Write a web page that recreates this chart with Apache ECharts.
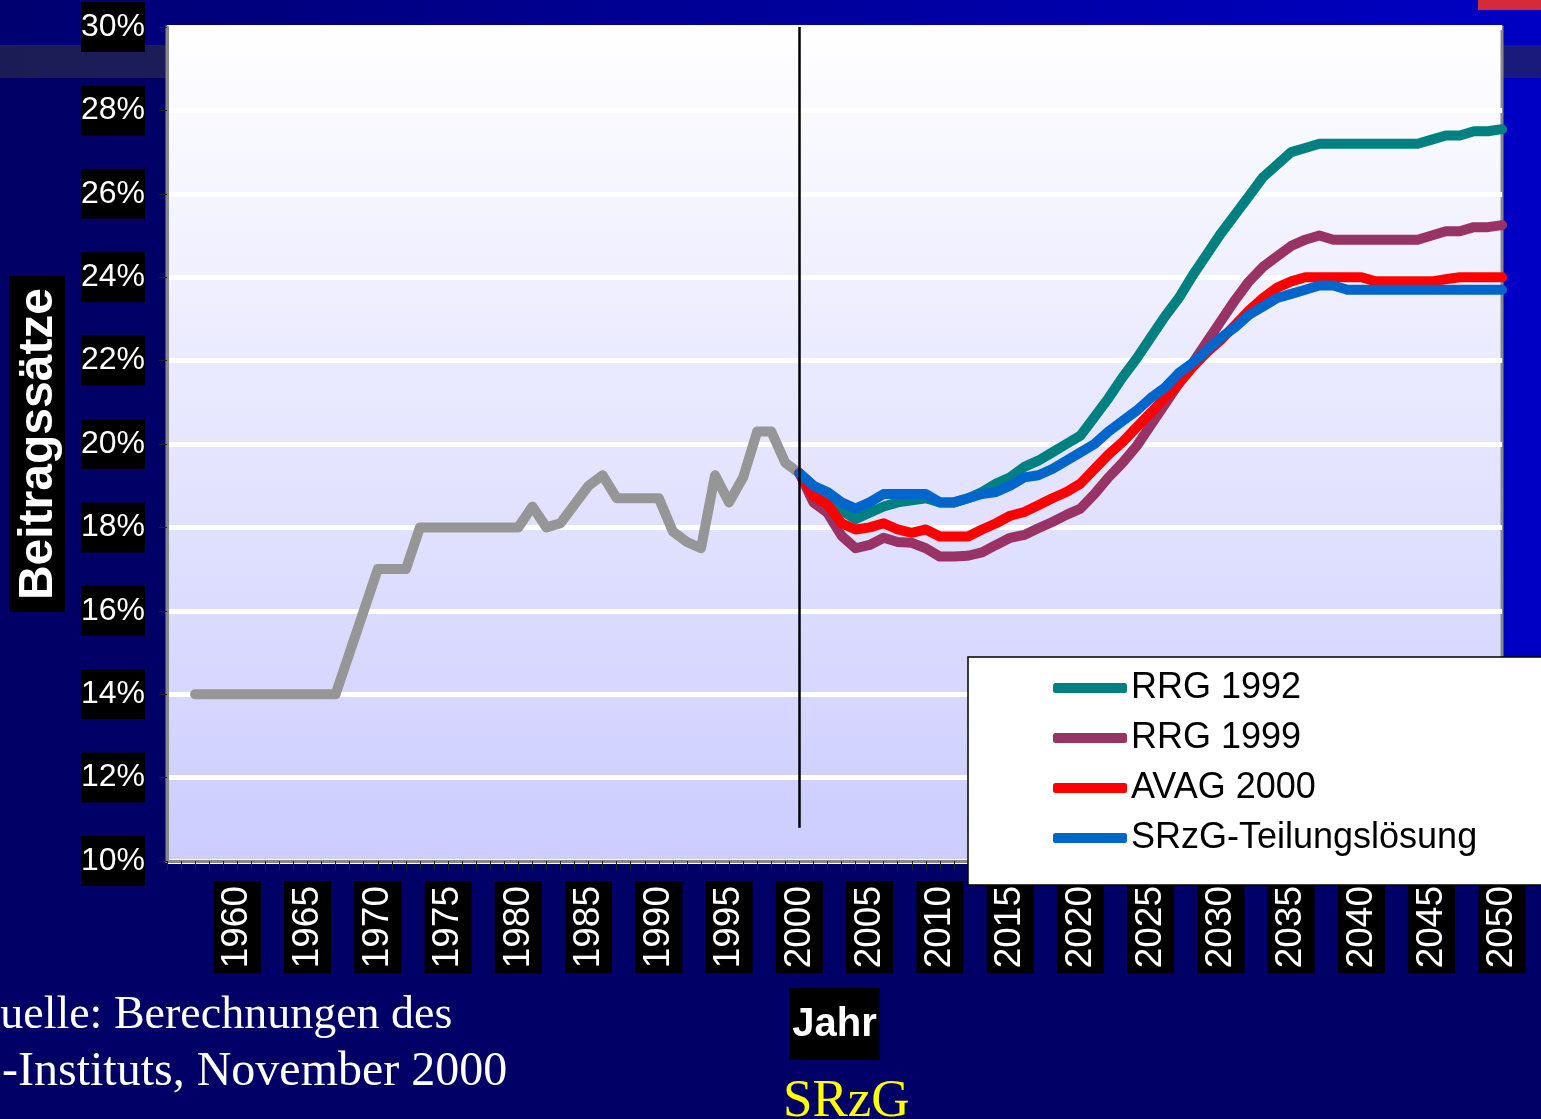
<!DOCTYPE html>
<html>
<head>
<meta charset="utf-8">
<title>Beitragssätze</title>
<script src="https://cdn.jsdelivr.net/npm/echarts@6/dist/echarts.min.js"></script>
<style>
  html, body { margin: 0; padding: 0; background: #000066; }
  #chart { width: 1541px; height: 1119px; }
</style>
</head>
<body>
<div id="chart"></div>
<script>
// year axis 1955..2050
var firstYear = 1955, lastYear = 2050;
var years = [];
for (var y = firstYear; y <= lastYear; y++) { years.push(String(y)); }

// historical rates 1957..2000
var histStart = 1957;
var histValues = [14, 14, 14, 14, 14, 14, 14, 14, 14, 14, 14, 15, 16, 17, 17, 17, 18, 18, 18, 18, 18, 18, 18, 18,
    18.5, 18.0, 18.1, 18.55, 19.0, 19.25, 18.7, 18.7, 18.7, 18.7, 17.9, 17.65, 17.5, 19.25, 18.6, 19.2, 20.3, 20.3,
    19.55, 19.3];

// projections 2000..2050
var projStart = 2000;
var rrg1992 = [19.3, 19.0, 18.8, 18.4, 18.2, 18.35, 18.5, 18.6, 18.65, 18.7, 18.6, 18.6, 18.7, 18.85, 19.05, 19.2,
    19.45, 19.6, 19.8, 20.0, 20.2, 20.65, 21.1, 21.6, 22.05, 22.55, 23.05, 23.5, 24.05, 24.55, 25.05, 25.5, 25.95,
    26.4, 26.7, 27.0, 27.1, 27.2, 27.2, 27.2, 27.2, 27.2, 27.2, 27.2, 27.2, 27.3, 27.4, 27.4, 27.5, 27.5, 27.55];
var rrg1999 = [19.3, 18.6, 18.35, 17.8, 17.5, 17.58, 17.75, 17.65, 17.63, 17.5, 17.3, 17.3, 17.32, 17.4, 17.58, 17.75,
    17.82, 17.98, 18.13, 18.3, 18.45, 18.8, 19.2, 19.55, 19.95, 20.45, 20.95, 21.45, 21.95, 22.45, 22.95, 23.45, 23.9,
    24.25, 24.5, 24.75, 24.9, 25.0, 24.9, 24.9, 24.9, 24.9, 24.9, 24.9, 24.9, 25.0, 25.1, 25.1, 25.2, 25.2, 25.25];
var avag2000 = [19.3, 18.75, 18.55, 18.1, 17.95, 18.0, 18.1, 17.95, 17.87, 17.95, 17.78, 17.78, 17.78, 17.95, 18.1, 18.28,
    18.37, 18.53, 18.7, 18.85, 19.05, 19.4, 19.75, 20.05, 20.4, 20.75, 21.1, 21.45, 21.85, 22.2, 22.5, 22.85, 23.2,
    23.5, 23.75, 23.9, 24.0, 24.0, 24.0, 24.0, 24.0, 23.9, 23.9, 23.9, 23.9, 23.9, 23.95, 24.0, 24.0, 24.0, 24.0];
var srzg = [19.3, 19.0, 18.85, 18.6, 18.45, 18.6, 18.8, 18.8, 18.8, 18.8, 18.6, 18.6, 18.7, 18.8, 18.85, 19.0,
    19.2, 19.25, 19.4, 19.6, 19.8, 20.0, 20.3, 20.55, 20.8, 21.1, 21.35, 21.7, 21.95, 22.25, 22.55, 22.8, 23.1,
    23.3, 23.5, 23.6, 23.7, 23.8, 23.8, 23.7, 23.7, 23.7, 23.7, 23.7, 23.7, 23.7, 23.7, 23.7, 23.7, 23.7, 23.7];

var seriesNames = ['RRG 1992', 'RRG 1999', 'AVAG 2000', 'SRzG-Teilungslösung'];
var seriesColors = ['#008080', '#993366', '#ff0000', '#0066cc'];
var histColor = '#969696';

// y axis ticks
var yMin = 10, yMax = 30, yStep = 2;

function pad(start, values) {
    var out = [];
    for (var i = firstYear; i < start; i++) out.push(null);
    return out.concat(values);
}

var sans = '"Liberation Sans", Arial, sans-serif';
var serif = '"Liberation Serif", "Times New Roman", serif';

var chart = echarts.init(document.getElementById('chart'));

var lineSeries = [{
    name: 'hist',
    type: 'line',
    data: pad(histStart, histValues),
    symbol: 'none',
    lineStyle: { color: histColor, width: 10, cap: 'round', join: 'round' },
    itemStyle: { color: histColor },
    markLine: {
        silent: true,
        symbol: 'none',
        label: { show: false },
        lineStyle: { color: '#000', width: 2.5, type: 'solid' },
        data: [[{ coord: ['2000', 30] }, { coord: ['2000', 10.8] }]]
    }
}];
[rrg1992, rrg1999, avag2000, srzg].forEach(function (vals, i) {
    lineSeries.push({
        name: seriesNames[i],
        type: 'line',
        data: pad(projStart, vals),
        symbol: 'none',
        lineStyle: { color: seriesColors[i], width: 10, cap: 'round', join: 'round' },
        itemStyle: { color: seriesColors[i] }
    });
});

var option = {
    backgroundColor: '#000066',
    animation: false,
    graphic: [
        { type: 'rect', z: -10, shape: { x: 0, y: 0, width: 1541, height: 45 },
          style: { fill: new echarts.graphic.LinearGradient(0, 0, 1, 0, [
              { offset: 0, color: '#000070' }, { offset: 1, color: '#0000c4' }]) } },
        { type: 'rect', z: -10, shape: { x: 0, y: 45, width: 1541, height: 33 },
          style: { fill: new echarts.graphic.LinearGradient(0, 0, 1, 0, [
              { offset: 0, color: '#1c1c55' }, { offset: 1, color: '#1a1a7c' }]) } },
        { type: 'rect', z: -10, shape: { x: 1502, y: 78, width: 39, height: 800 }, style: { fill: '#0000c4' } },
        { type: 'rect', z: -10, shape: { x: 1478, y: 0, width: 63, height: 10 }, style: { fill: '#d42a3a' } },
        { type: 'text', left: -33, top: 993, z: 10,
          style: { text: 'Quelle: Berechnungen des', fill: '#fff', font: '46px ' + serif } },
        { type: 'text', left: 2, top: 1048, z: 10,
          style: { text: '-Instituts, November 2000', fill: '#fff', font: '48px ' + serif } },
        { type: 'text', left: 783, top: 1076, z: 10,
          style: { text: 'SRzG', fill: '#ffff00', font: '53px ' + serif } }
    ],
    grid: {
        left: 167, right: 39, top: 27, bottom: 258,
        outerBoundsMode: 'none',
        containLabel: false,
        show: true,
        borderColor: '#888',
        borderWidth: 3,
        backgroundColor: new echarts.graphic.LinearGradient(0, 0, 0, 1, [
            { offset: 0, color: '#ffffff' }, { offset: 1, color: '#ccccff' }])
    },
    legend: {
        data: seriesNames,
        orient: 'vertical',
        left: 968,
        top: 657,
        backgroundColor: '#fff',
        borderColor: '#000',
        borderWidth: 1.5,
        borderRadius: 0,
        padding: [6, 200, 22, 85],
        icon: 'roundRect',
        itemWidth: 74,
        itemHeight: 10,
        itemGap: 0,
        textStyle: { color: '#000', fontSize: 36, fontFamily: sans, lineHeight: 50, padding: [0, 0, 0, -1] }
    },
    xAxis: {
        type: 'category',
        data: years,
        boundaryGap: false,
        name: 'Jahr',
        nameLocation: 'middle',
        nameGap: 127,
        nameTextStyle: { color: '#fff', fontSize: 40, fontWeight: 'bold', fontFamily: sans,
            backgroundColor: '#000', padding: [17, 3, 15, 3] },
        axisLine: { lineStyle: { color: '#888', width: 3 } },
        axisTick: { show: true, interval: 0, length: 9, lineStyle: { color: '#222', width: 1 } },
        axisLabel: {
            interval: function (idx, val) { var n = Number(val); return n % 5 === 0 && n > firstYear; },
            rotate: 90,
            margin: 20,
            color: '#fff',
            fontSize: 37,
            fontFamily: sans,
            backgroundColor: '#000',
            padding: [6, 5, 4, 5]
        },
        splitLine: { show: false }
    },
    yAxis: {
        type: 'value',
        min: yMin, max: yMax, interval: yStep,
        name: 'Beitragssätze',
        nameLocation: 'middle',
        nameRotate: 90,
        nameGap: 102,
        nameTextStyle: { color: '#fff', fontSize: 48, fontWeight: 'bold', fontFamily: sans,
            backgroundColor: '#000', padding: [6, 12, 2, 12] },
        axisLine: { show: true, lineStyle: { color: '#888', width: 3 } },
        axisTick: { show: true, length: 8, lineStyle: { color: '#222' } },
        axisLabel: {
            formatter: '{value}%',
            color: '#fff',
            fontSize: 32,
            fontFamily: sans,
            backgroundColor: '#000',
            padding: [10, 0, 8, 0],
            margin: 22
        },
        splitLine: { lineStyle: { color: '#fff', width: 5 } }
    },
    series: lineSeries
};

chart.setOption(option);
</script>
</body>
</html>
